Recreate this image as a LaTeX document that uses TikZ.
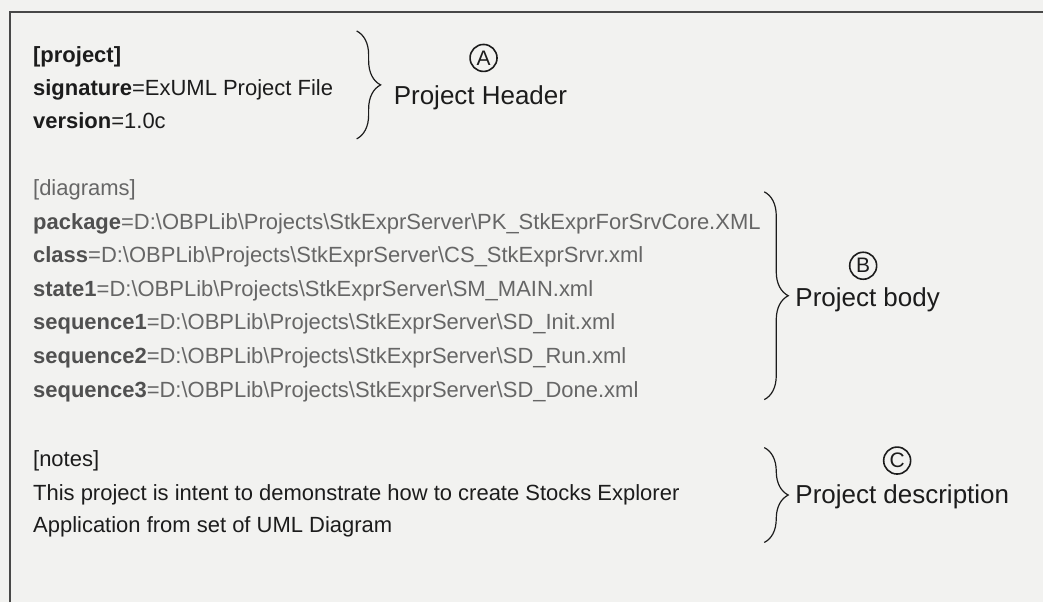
\documentclass[tikz,border=0pt]{standalone}
\usepackage{fontspec}
\setmainfont{Liberation Sans}
\usetikzlibrary{decorations.pathreplacing}
\definecolor{paper}{HTML}{F2F2F0}
\definecolor{ink}{HTML}{1C1C1C}
\definecolor{inkgrey}{HTML}{666666}
\definecolor{keygrey}{HTML}{505050}
\definecolor{framegrey}{HTML}{484848}
\newcommand\bks{\textbackslash}
\newcommand\projpath{D:\bks OBPLib\bks Projects\bks StkExprServer\bks}
\begin{document}
\begin{tikzpicture}[x=1pt,y=-1pt,
  bodytext/.style={inner sep=0pt, anchor=base west, font=\fontsize{22}{26}\selectfont, text=ink},
  greytext/.style={bodytext, text=inkgrey},
  tag/.style={inner sep=0pt, anchor=base west, font=\fontsize{26}{30}\selectfont, text=ink},
  marker/.style={circle, draw=ink, line width=1.6pt, inner sep=0pt, minimum size=27pt,
    font=\fontsize{21}{21}\selectfont, text=ink},
  curly/.style={draw=ink, line width=1.2pt, decorate, decoration={brace, amplitude=24pt}}]

% page and open frame
\fill[paper] (0,0) rectangle (1044,603);
\draw[framegrey, line width=2pt] (10,603) -- (10,12) -- (1044,12);

% header section
\node[bodytext] (proj) at (33,62.5) {\textbf{[project]}};
\node[bodytext] (sig)  at (33,95.5) {\textbf{signature}=ExUML Project File};
\node[bodytext] (ver)  at (33,129) {\textbf{version}=1.0c};

% diagram list
\node[greytext] (diag) at (33,195.5) {[diagrams]};
\node[greytext] (pkg)  at (33,229.5) {\textcolor{keygrey}{\textbf{package}}=\projpath PK\_StkExprForSrvCore.XML};
\node[greytext] (cls)  at (33,263) {\textcolor{keygrey}{\textbf{class}}=\projpath CS\_StkExprSrvr.xml};
\node[greytext] (st1)  at (33,296.5) {\textcolor{keygrey}{\textbf{state1}}=\projpath SM\_MAIN.xml};
\node[greytext] (sq1)  at (33,330) {\textcolor{keygrey}{\textbf{sequence1}}=\projpath SD\_Init.xml};
\node[greytext] (sq2)  at (33,364) {\textcolor{keygrey}{\textbf{sequence2}}=\projpath SD\_Run.xml};
\node[greytext] (sq3)  at (33,398) {\textcolor{keygrey}{\textbf{sequence3}}=\projpath SD\_Done.xml};

% notes
\node[bodytext] (notes) at (33,467) {[notes]};
\node[bodytext] (desc1) at (33,500.5) {This project is intent to demonstrate how to create Stocks Explorer};
\node[bodytext] (desc2) at (33,533.5) {Application from set of UML Diagram};

% braces
\coordinate (aTop) at (357,31);  \coordinate (aBot) at (357,139);
\coordinate (bTop) at (765,192); \coordinate (bBot) at (765,400);
\coordinate (cTop) at (765,448); \coordinate (cBot) at (765,543);
\draw[curly] (aTop) -- (aBot);
\draw[curly] (bTop) -- (bBot);
\draw[curly] (cTop) -- (cBot);

% section labels
\node[tag] (hdr)  at (394,105) {Project Header};
\node[tag] (body) at (796,307) {Project body};
\node[tag] (dsc)  at (796,504) {Project description};
\node[marker] (mA) at (484,58) {A};
\node[marker] (mB) at (864,266) {B};
\node[marker] (mC) at (898,461) {C};
\end{tikzpicture}
\end{document}
